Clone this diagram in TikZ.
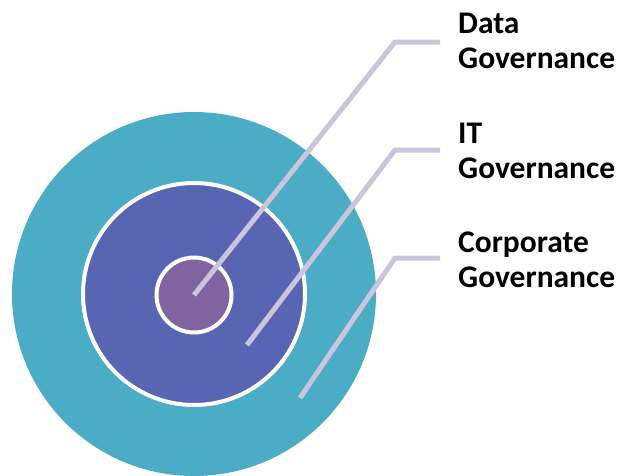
\documentclass[tikz,border=0pt]{standalone}
\usepackage{fontspec}
\setmainfont{Carlito}
\definecolor{ringOuter}{HTML}{4BACC6}
\definecolor{ringMid}{HTML}{5865B3}
\definecolor{ringInner}{HTML}{8064A2}
\definecolor{leader}{HTML}{CCC4DA}

\begin{document}
\begin{tikzpicture}[x=1pt,y=-1pt,
  ring/.style={circle,draw=white,inner sep=0pt},
  leaderline/.style={leader,line width=5pt},
  tag/.style={anchor=north west,inner sep=0pt,align=left,
    font=\bfseries\fontsize{31.5}{34.5}\selectfont}]
  \useasboundingbox (0,0) rectangle (619,475);

  % the three nested rings
  \node[ring,draw=none,fill=ringOuter,minimum size=364pt] (outer) at (194,294) {};
  \node[ring,line width=4pt,fill=ringMid,minimum size=222pt] (middle) at (194,294) {};
  \node[ring,line width=4pt,fill=ringInner,minimum size=75pt] (inner) at (194,295) {};

  % labels
  \node[tag] (data) at (458,13) {Data\\Governance};
  \node[tag] (it) at (458,123) {IT\\Governance};
  \node[tag] (corp) at (458,232) {Corporate\\Governance};

  % leader lines
  \coordinate (itfoot) at (247,345);
  \coordinate (corpfoot) at (300,398);
  \draw[leaderline] (inner.center) -- (395,42) -- (440,42);
  \draw[leaderline] (itfoot) -- (395,150) -- (440,150);
  \draw[leaderline] (corpfoot) -- (395,258) -- (440,258);
\end{tikzpicture}
\end{document}
